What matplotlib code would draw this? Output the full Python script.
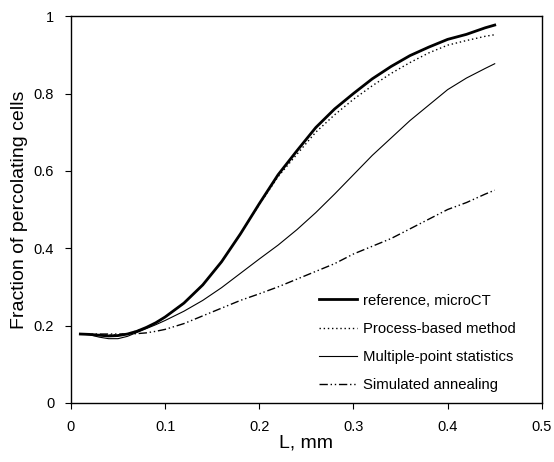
import matplotlib
matplotlib.use('Agg')
import matplotlib.pyplot as plt
from matplotlib.ticker import FuncFormatter

plt.rcParams['font.family'] = ['Liberation Sans', 'DejaVu Sans']

# L in mm
L = [0.01, 0.02, 0.03, 0.04, 0.05, 0.06, 0.07, 0.08, 0.09, 0.10,
     0.12, 0.14, 0.16, 0.18, 0.20, 0.22, 0.24, 0.26, 0.28, 0.30,
     0.32, 0.34, 0.36, 0.38, 0.40, 0.42, 0.44, 0.45]

microct = [0.178, 0.177, 0.175, 0.173, 0.174, 0.178, 0.185, 0.195, 0.207, 0.222,
           0.258, 0.305, 0.365, 0.437, 0.515, 0.59, 0.652, 0.712, 0.76, 0.80,
           0.838, 0.87, 0.898, 0.92, 0.94, 0.953, 0.97, 0.977]

process_based = [0.178, 0.177, 0.176, 0.175, 0.176, 0.179, 0.186, 0.195, 0.207, 0.222,
                 0.258, 0.305, 0.365, 0.437, 0.513, 0.585, 0.643, 0.70, 0.745, 0.785,
                 0.82, 0.852, 0.88, 0.905, 0.925, 0.937, 0.948, 0.952]

mps = [0.178, 0.176, 0.170, 0.166, 0.166, 0.172, 0.182, 0.192, 0.202, 0.213,
       0.237, 0.265, 0.298, 0.335, 0.372, 0.408, 0.448, 0.492, 0.54, 0.59,
       0.64, 0.685, 0.73, 0.77, 0.81, 0.84, 0.865, 0.877]

annealing = [0.178, 0.178, 0.178, 0.178, 0.178, 0.178, 0.179, 0.181, 0.185, 0.19,
             0.205, 0.225, 0.245, 0.265, 0.282, 0.30, 0.32, 0.34, 0.36, 0.385,
             0.405, 0.425, 0.45, 0.475, 0.50, 0.518, 0.54, 0.55]

fig = plt.figure(figsize=(5.54, 4.62), dpi=100)
ax = fig.add_axes([0.128, 0.128, 0.85, 0.837])

ax.plot(L, microct, color='black', lw=2.0, label='reference, microCT')
ax.plot(L, process_based, color='black', lw=1.0, dashes=(1, 2), label='Process-based method')
ax.plot(L, mps, color='black', lw=0.8, label='Multiple-point statistics')
ax.plot(L, annealing, color='black', lw=1.0, dashes=(6, 2, 1, 2, 1, 2), label='Simulated annealing')

ax.set_xlim(0, 0.5)
ax.set_ylim(0, 1)
ax.set_xticks([0, 0.1, 0.2, 0.3, 0.4, 0.5])
ax.set_yticks([0, 0.2, 0.4, 0.6, 0.8, 1.0])
fmt = FuncFormatter(lambda v, p: '%g' % round(v, 2))
ax.xaxis.set_major_formatter(fmt)
ax.yaxis.set_major_formatter(fmt)
ax.tick_params(direction='out', length=4, width=0.8, labelsize=10.5, pad=8)
for s in ax.spines.values():
    s.set_linewidth(1.0)

ax.set_xlabel('L, mm', fontsize=14, labelpad=1)
ax.set_ylabel('Fraction of percolating cells', fontsize=14, labelpad=4)

ax.legend(loc='lower left', bbox_to_anchor=(0.527, 0.028), frameon=False,
          fontsize=10.7, handlelength=2.55, handletextpad=0.4, labelspacing=0.95,
          borderpad=0, borderaxespad=0)

fig.savefig('out.png', dpi=100)
